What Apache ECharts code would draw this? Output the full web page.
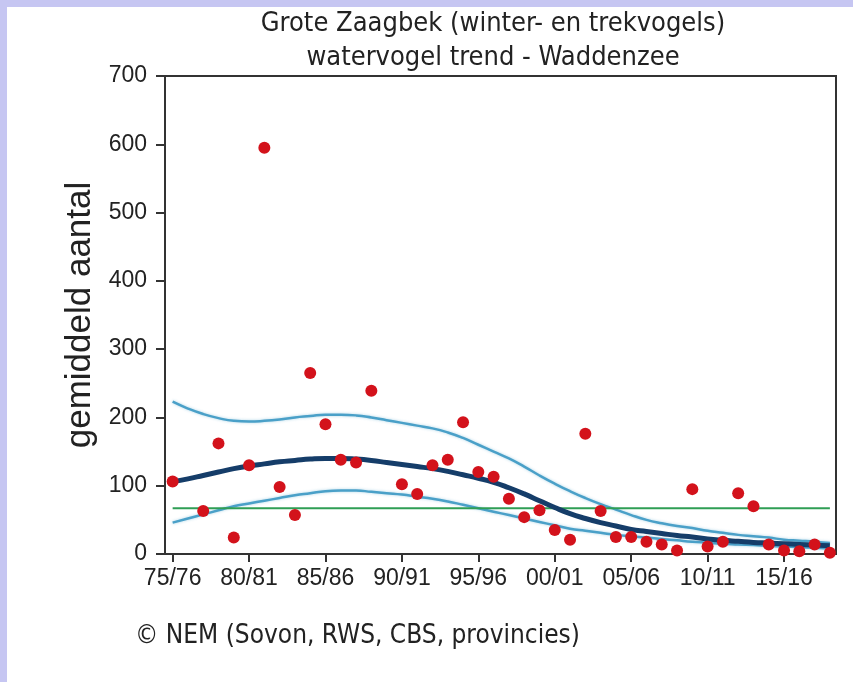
<!DOCTYPE html>
<html>
<head>
<meta charset="utf-8">
<script src="https://cdn.jsdelivr.net/npm/echarts@6/dist/echarts.min.js"></script>
<style>
  html, body { margin: 0; padding: 0; background: #ffffff; }
  #frame { position: relative; width: 853px; height: 682px; overflow: hidden; background: #ffffff; }
  #bandTop { position: absolute; left: 0; top: 0; width: 853px; height: 7px; background: #c6c6f2; }
  #bandLeft { position: absolute; left: 0; top: 0; width: 7px; height: 682px; background: #c6c6f2; }
  #chart { position: absolute; left: 0; top: 0; width: 853px; height: 682px; }
</style>
</head>
<body>
<div id="frame">
  <div id="bandTop"></div>
  <div id="bandLeft"></div>
  <div id="chart"></div>
</div>
<script>
// Winter counts (seasonal mean), one value per season start year
const countYears = [1975, 1977, 1978, 1979, 1980, 1981, 1982, 1983, 1984, 1985, 1986, 1987, 1988,
  1990, 1991, 1992, 1993, 1994, 1995, 1996, 1997, 1998, 1999, 2000, 2001, 2002, 2003,
  2004, 2005, 2006, 2007, 2008, 2009, 2010, 2011, 2012, 2013, 2014, 2015, 2016, 2017, 2018];
const countValues = [106, 63, 162, 24, 130, 595, 98, 57, 265, 190, 138, 134, 239,
  102, 88, 130, 138, 193, 120, 113, 81, 54, 64, 35, 21, 176, 63,
  25, 25, 18, 14, 5, 95, 11, 18, 89, 70, 14, 5, 4, 14, 2];

// Smoothed trend with its confidence band
const trendYears = [1975, 1976, 1977, 1978, 1979, 1980, 1981, 1982, 1983, 1984, 1985, 1986, 1987, 1988, 1989,
  1990, 1991, 1992, 1993, 1994, 1995, 1996, 1997, 1998, 1999, 2000, 2001, 2002, 2003, 2004,
  2005, 2006, 2007, 2008, 2009, 2010, 2011, 2012, 2013, 2014, 2015, 2016, 2017, 2018];
const trendMid = [106, 110, 115, 120, 125, 129, 132, 135, 137, 139, 140, 140, 139, 137, 134,
  131, 128, 125, 121, 116, 111, 105, 97, 88, 78, 68, 59, 52, 46, 41,
  36, 33, 30, 27, 25, 22, 20, 18.5, 17, 16, 15, 14, 13, 12];
const trendUpper = [223, 213, 205, 199, 195, 194, 195, 197, 200, 202, 204, 204, 203, 200, 196,
  192, 188, 184, 178, 170, 160, 150, 140, 128, 115, 103, 92, 82, 73, 65,
  57, 50, 45, 41, 38, 34, 31, 28, 26, 24, 21, 19.5, 18, 16];
const trendLower = [46, 52, 58, 64, 70, 74, 78, 82, 86, 89, 92, 93, 93, 91, 89,
  87, 84, 81, 77, 72, 67, 62, 57, 52, 47, 42, 37, 34, 31, 28,
  26, 24, 22, 20, 18, 16.5, 15, 14, 13, 12, 11, 10, 9, 8];

// Reference level (horizontal line)
const referenceLevel = 67;
const referenceYears = [1975, 2018];

// Axis ticks
const xTickYears = [1975, 1980, 1985, 1990, 1995, 2000, 2005, 2010, 2015];
const yTicks = [0, 100, 200, 300, 400, 500, 600, 700];

const titleLines = ['Grote Zaagbek (winter- en trekvogels)', 'watervogel trend - Waddenzee'];
const yAxisTitle = 'gemiddeld aantal';
const sourceNote = '\u00A9 NEM (Sovon, RWS, CBS, provincies)';

const pair = (xs, ys) => xs.map((x, i) => [x, ys[i]]);
const two = n => String(((n % 100) + 100) % 100).padStart(2, '0');
const seasonLabel = y => two(y) + '/' + two(y + 1);

const chart = echarts.init(document.getElementById('chart'), null, { renderer: 'canvas' });

const titleFont = '"DejaVu Sans Condensed", "DejaVu Sans", Verdana, sans-serif';
const axisFont = '"Liberation Sans", Arial, sans-serif';

chart.setOption({
  backgroundColor: 'transparent',
  animation: false,
  grid: {
    left: 165, right: 17, top: 76, bottom: 128,
    show: true, borderColor: '#333333', borderWidth: 2, backgroundColor: 'transparent'
  },
  xAxis: {
    type: 'value',
    min: 1974.5,
    max: 2018.4,
    splitLine: { show: false },
    axisLine: { show: true, onZero: false, lineStyle: { color: '#333333', width: 2 } },
    axisTick: { show: true, length: 8, customValues: xTickYears, lineStyle: { color: '#333333', width: 2 } },
    axisLabel: {
      customValues: xTickYears,
      formatter: v => seasonLabel(v),
      margin: 13,
      color: '#222222',
      fontFamily: axisFont,
      fontSize: 23
    }
  },
  yAxis: {
    type: 'value',
    min: 0, max: 700, interval: 100,
    name: yAxisTitle,
    nameLocation: 'middle',
    nameGap: 63,
    nameTextStyle: { color: '#222222', fontFamily: axisFont, fontSize: 35 },
    splitLine: { show: false },
    axisLine: { show: true, lineStyle: { color: '#333333', width: 2 } },
    axisTick: { show: true, length: 9, lineStyle: { color: '#333333', width: 2 } },
    axisLabel: {
      margin: 18,
      color: '#222222',
      fontFamily: axisFont,
      fontSize: 23,
      formatter: v => (yTicks.indexOf(v) >= 0 ? String(v) : '')
    }
  },
  series: [
    {
      type: 'line', name: 'upper', data: pair(trendYears, trendUpper), smooth: true,
      showSymbol: false, silent: true, z: 2,
      lineStyle: { color: '#4aa0c8', width: 2.5, shadowColor: 'rgba(74,160,200,0.45)', shadowBlur: 3 }
    },
    {
      type: 'line', name: 'lower', data: pair(trendYears, trendLower), smooth: true,
      showSymbol: false, silent: true, z: 2,
      lineStyle: { color: '#4aa0c8', width: 2.5, shadowColor: 'rgba(74,160,200,0.45)', shadowBlur: 3 }
    },
    {
      type: 'line', name: 'reference', data: referenceYears.map(y => [y, referenceLevel]),
      showSymbol: false, silent: true, z: 3,
      lineStyle: { color: '#2f9e55', width: 2 }
    },
    {
      type: 'line', name: 'trend', data: pair(trendYears, trendMid), smooth: true,
      showSymbol: false, silent: true, z: 4,
      lineStyle: { color: '#153d69', width: 5 }
    },
    {
      type: 'scatter', name: 'counts', data: pair(countYears, countValues),
      symbol: 'circle', symbolSize: 12, z: 5,
      itemStyle: { color: '#d3121b', opacity: 1 }
    }
  ],
  graphic: [
    {
      type: 'text', x: 493, y: 7,
      style: {
        text: titleLines.join('\n'), align: 'center', verticalAlign: 'top',
        font: '27px ' + titleFont, fill: '#222222', lineHeight: 34
      }
    },
    {
      type: 'text', x: 135, y: 636,
      style: {
        text: sourceNote, align: 'left', verticalAlign: 'middle',
        font: '26px ' + titleFont, fill: '#222222'
      }
    }
  ]
});
</script>
</body>
</html>
